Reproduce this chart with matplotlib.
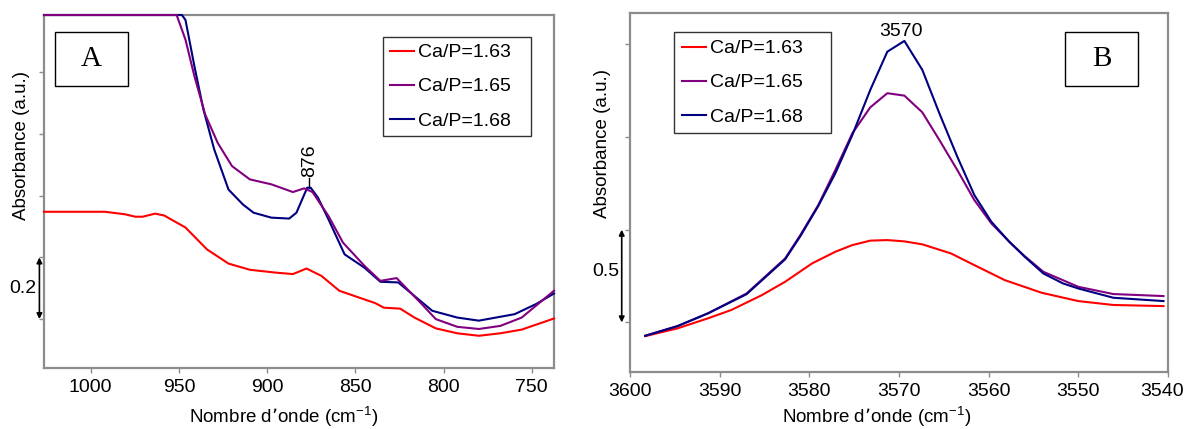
import numpy as np
import matplotlib
matplotlib.use("Agg")
import matplotlib.pyplot as plt
from matplotlib.patches import Rectangle
import matplotlib.transforms as mtransforms

plt.rcParams['font.family'] = ['Liberation Sans', 'DejaVu Sans']
plt.rcParams['mathtext.default'] = 'regular'

labels = ["Ca/P=1.63", "Ca/P=1.65", "Ca/P=1.68"]
colors = ["#ff0000", "#800080", "#000080"]

# ---- panel A : 1026 - 737 cm-1 ----
a_x_163 = [1026.5, 991.9, 980.7, 974.7, 970.6, 963.5, 958.4, 946.3, 934.1, 921.9, 909.8,
           895.6, 885.4, 877.7, 869.2, 859.1, 849.0, 838.8, 833.8, 824.6, 816.5, 804.4,
           792.2, 780.0, 767.8, 755.7, 737.4]
a_y_163 = [0.548, 0.548, 0.540, 0.532, 0.532, 0.542, 0.536, 0.497, 0.426, 0.380, 0.360,
           0.351, 0.346, 0.364, 0.340, 0.292, 0.272, 0.252, 0.237, 0.234, 0.205, 0.170,
           0.154, 0.146, 0.154, 0.166, 0.202]

a_x_165 = [1026.5, 951.3, 946.3, 941.2, 935.1, 928.0, 919.9, 909.8, 897.6, 885.4, 879.0,
           874.3, 865.2, 857.0, 844.9, 835.8, 830.7, 826.6, 820.5, 812.4, 804.4, 792.2,
           780.0, 767.8, 755.7, 737.4]
a_y_165 = [1.186, 1.186, 1.106, 0.987, 0.863, 0.771, 0.696, 0.653, 0.637, 0.612, 0.624,
           0.612, 0.534, 0.448, 0.373, 0.324, 0.329, 0.333, 0.297, 0.249, 0.200, 0.175,
           0.168, 0.178, 0.205, 0.292]

a_x_168 = [1026.5, 948.3, 946.3, 941.2, 936.1, 930.0, 921.9, 913.8, 907.7, 897.6, 887.5,
           883.4, 877.3, 875.3, 871.2, 865.2, 856.1, 844.9, 835.8, 825.7, 816.5, 806.4,
           792.2, 780.0, 759.7, 747.5, 737.4]
a_y_168 = [1.186, 1.186, 1.170, 1.019, 0.879, 0.750, 0.620, 0.572, 0.545, 0.529, 0.526,
           0.545, 0.626, 0.626, 0.594, 0.523, 0.410, 0.367, 0.321, 0.319, 0.275, 0.227,
           0.205, 0.195, 0.216, 0.249, 0.283]

# ---- panel B : 3600 - 3540 cm-1 ----
b_x_163 = [3598.3, 3594.7, 3591.3, 3588.7, 3585.3, 3582.7, 3579.7, 3577.1, 3575.2, 3573.2,
           3571.3, 3569.4, 3567.4, 3564.2, 3561.6, 3558.2, 3554.1, 3550.0, 3546.1, 3540.5]
b_y_163 = [0.426, 0.468, 0.522, 0.567, 0.647, 0.719, 0.818, 0.881, 0.917, 0.941,
           0.944, 0.937, 0.921, 0.872, 0.809, 0.728, 0.660, 0.615, 0.594, 0.588]

b_x_165 = [3598.3, 3594.7, 3591.3, 3587.0, 3582.7, 3581.0, 3579.0, 3577.1, 3575.2, 3573.2,
           3571.3, 3569.4, 3567.4, 3565.5, 3563.5, 3561.6, 3559.7, 3557.7, 3556.0, 3553.9,
           3550.0, 3546.1, 3540.5]
b_y_165 = [0.428, 0.480, 0.549, 0.656, 0.845, 0.971, 1.133, 1.322, 1.520, 1.660,
           1.736, 1.723, 1.633, 1.484, 1.322, 1.160, 1.034, 0.935, 0.858, 0.773,
           0.692, 0.653, 0.642]

b_x_168 = [3598.3, 3594.7, 3591.3, 3587.0, 3582.7, 3581.0, 3579.0, 3577.1, 3575.2, 3573.2,
           3571.3, 3569.4, 3567.4, 3565.5, 3563.5, 3561.6, 3559.7, 3557.7, 3556.0, 3553.9,
           3551.7, 3550.0, 3546.1, 3540.5]
b_y_168 = [0.428, 0.480, 0.549, 0.652, 0.840, 0.965, 1.128, 1.304, 1.511, 1.754,
           1.960, 2.018, 1.862, 1.628, 1.394, 1.187, 1.043, 0.935, 0.855, 0.764,
           0.710, 0.683, 0.633, 0.615]

fig = plt.figure(figsize=(11.86, 4.29), dpi=100)
axA = fig.add_axes([0.0371, 0.1422, 0.430, 0.8228])
axB = fig.add_axes([0.5312, 0.1322, 0.4536, 0.8368])

# purple drawn over blue in A (flat saturated top), as in the original
for ax, xs, ys, zs in [(axA, [a_x_163, a_x_165, a_x_168], [a_y_163, a_y_165, a_y_168], [3, 3.2, 3.1]),
                       (axB, [b_x_163, b_x_165, b_x_168], [b_y_163, b_y_165, b_y_168], [3, 3.1, 3.2])]:
    for x, y, c, lab, z in zip(xs, ys, colors, labels, zs):
        ax.plot(x, y, color=c, lw=1.5, label=lab, clip_on=False, zorder=z)
    for s in ax.spines.values():
        s.set_color("#8c8c8c")
        s.set_linewidth(1.6)
    ax.tick_params(axis='both', direction='out', length=3.6, width=1, color="#8c8c8c",
                   labelsize=14, pad=4)
    ax.tick_params(axis='y', labelleft=False)

# axis A
axA.set_xlim(1026.5, 737.4)
axA.set_ylim(0.0415, 1.186)
axA.set_xticks([1000, 950, 900, 850, 800, 750])
axA.set_yticks([0.2, 0.4, 0.6, 0.8, 1.0])
# axis B
axB.set_xlim(3600, 3540)
axB.set_ylim(0.231, 2.167)
axB.set_xticks([3600, 3590, 3580, 3570, 3560, 3550, 3540])
axB.set_yticks([0.5, 1.0, 1.5, 2.0])

# keep the last tick label of B inside the figure
last = axB.get_xticklabels()[-1]
last.set_transform(last.get_transform() + mtransforms.ScaledTranslation(-6 / 100, 0, fig.dpi_scale_trans))

for ax, lx, ly, xx, xy in [(axA, -0.027, 0.629, 0.469, -0.105),
                           (axB, -0.035, 0.636, 0.459, -0.091)]:
    ax.set_ylabel("Absorbance (a.u.)", fontsize=13.5)
    ax.yaxis.set_label_coords(lx, ly)
    ax.set_xlabel("Nombre d\u2019onde (cm$^{-1}$)", fontsize=13.5)
    ax.xaxis.set_label_coords(xx, xy)

legA = axA.legend(loc='upper left', bbox_to_anchor=(0.665, 0.663, 0.29, 0.275), mode='expand',
                  borderaxespad=0, fontsize=14, frameon=True, fancybox=False, edgecolor='black',
                  handlelength=1.25, handletextpad=0.2, labelspacing=0.85, borderpad=0.35)
legA.get_frame().set_linewidth(1.0)
legB = axB.legend(loc='upper left', bbox_to_anchor=(0.0818, 0.66, 0.292, 0.288), mode='expand',
                  borderaxespad=0, fontsize=14, frameon=True, fancybox=False, edgecolor='black',
                  handlelength=1.25, handletextpad=0.2, labelspacing=0.85, borderpad=0.4)
legB.get_frame().set_linewidth(1.0)

# panel letters in boxes
for ax, x0, x1, y0, y1, t in [(axA, 0.0216, 0.1647, 0.799, 0.952, "A"),
                              (axB, 0.8086, 0.944, 0.7975, 0.948, "B")]:
    ax.add_patch(Rectangle((x0, y0), x1 - x0, y1 - y0, transform=ax.transAxes,
                           fill=False, edgecolor='black', lw=1.0, zorder=5))
    ax.text((x0 + x1) / 2, (y0 + y1) / 2, t, transform=ax.transAxes, ha='center',
            va='center', fontsize=21, family='Liberation Serif')

# peak marks
axA.plot([876, 876], [0.625, 0.657], color='black', lw=1)
axA.text(876, 0.662, "876", rotation=90, ha='center', va='bottom', fontsize=14)
axB.text(3569.8, 2.068, "3570", ha='center', va='center', fontsize=14)

# scale bars
trA = mtransforms.blended_transform_factory(axA.transAxes, axA.transData)
axA.annotate("", xy=(-0.009, 0.2), xytext=(-0.009, 0.4), xycoords=trA, textcoords=trA,
             arrowprops=dict(arrowstyle='<|-|>', color='black', lw=1.2,
                             mutation_scale=8, shrinkA=0, shrinkB=0),
             annotation_clip=False)
axA.text(-0.015, 0.3, "0.2", transform=trA, ha='right', va='center', fontsize=14)

trB = mtransforms.blended_transform_factory(axB.transAxes, axB.transData)
axB.annotate("", xy=(-0.0154, 0.5), xytext=(-0.0154, 1.0), xycoords=trB, textcoords=trB,
             arrowprops=dict(arrowstyle='<|-|>', color='black', lw=1.2,
                             mutation_scale=8, shrinkA=0, shrinkB=0),
             annotation_clip=False)
axB.text(-0.019, 0.773, "0.5", transform=trB, ha='right', va='center', fontsize=14)

fig.savefig("out.png", dpi=100)
